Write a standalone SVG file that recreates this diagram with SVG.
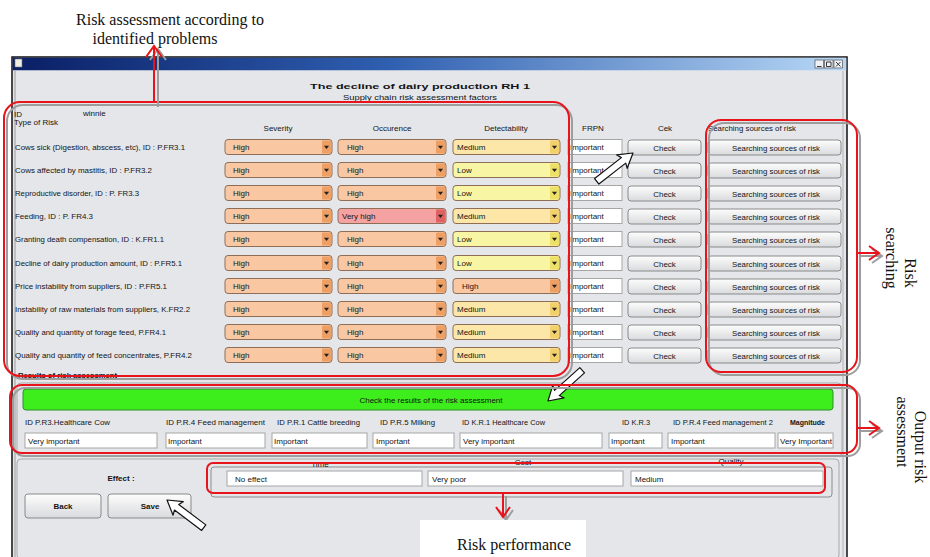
<svg xmlns="http://www.w3.org/2000/svg" width="930" height="557" viewBox="0 0 930 557">
<defs>
<linearGradient id="gTitle" x1="0" y1="0" x2="1" y2="0">
<stop offset="0" stop-color="#0a1f66"/><stop offset="0.45" stop-color="#2f5fb0"/><stop offset="1" stop-color="#b8d8f6"/>
</linearGradient>
<linearGradient id="gBtn" x1="0" y1="0" x2="0" y2="1">
<stop offset="0" stop-color="#fdfdfd"/><stop offset="1" stop-color="#d9dadc"/>
</linearGradient>
<path id="tri" d="M-2.6,-1.3 L2.6,-1.3 L0,1.9 Z" fill="#222"/>
<path id="cur" d="M0,0 L14,-8.5 L12,-3.5 L46,-3.5 L46,3.5 L12,3.5 L14,8.5 Z" fill="#fff" stroke="#111" stroke-width="1.2" stroke-linejoin="round"/>
</defs>
<style>
.ui{font-family:"Liberation Sans",Arial,sans-serif;font-size:8px;fill:#141414}
.b{font-weight:bold}
.serif{font-family:"Liberation Serif","Times New Roman",serif;font-size:16px;fill:#111}
.red{fill:none;stroke:#e8141c;stroke-width:2}
.shd{fill:none;stroke:#9d9d9d;stroke-width:2}
.btn{fill:url(#gBtn);stroke:#8a8a8a;stroke-width:1}
.tb{fill:#fff;stroke:#a6a6a6;stroke-width:1}
.dd{stroke:#8f6e58;stroke-width:1}
.hi{fill:#f9c8a2}.hiA{fill:#eea064}
.vh{fill:#f4a2a2}.vhA{fill:#df6262}
.lo{fill:#f8f5a4}.loA{fill:#ece066}
.me{fill:#fce6a8}.meA{fill:#f2d06c}
</style>

<rect width="930" height="557" fill="#fff"/>

<!-- window -->
<g id="window">
<rect x="12" y="57" width="835" height="510" fill="#e4e6ea" stroke="#111" stroke-width="1.5"/>
<rect x="12.75" y="57.75" width="833.5" height="12.5" fill="url(#gTitle)"/>
<rect x="15" y="59" width="7" height="8" fill="#f1efe4" stroke="#777" stroke-width="0.6"/>
<g stroke="#555" stroke-width="0.7" fill="#eef1f6">
<rect x="815" y="60" width="8.5" height="8"/><rect x="824.5" y="60" width="8.5" height="8"/><rect x="834" y="60" width="8.5" height="8"/>
</g>
<path d="M817,66.5 H821.5 M826.5,62 h4.5 v4.5 h-4.5 z M836,62 l4.5,4.5 M840.5,62 l-4.5,4.5" stroke="#222" stroke-width="0.9" fill="none"/>
<line x1="15" y1="71" x2="15" y2="557" stroke="#9a9a9a" stroke-width="1"/>
<line x1="843" y1="71" x2="843" y2="557" stroke="#b0b0b0" stroke-width="1"/>
<text class="ui b" x="310" y="89" font-size="15.5" textLength="220" lengthAdjust="spacingAndGlyphs">The decline of dairy production  RH 1</text>
<text class="ui" x="343" y="100" font-size="9.5" textLength="154" lengthAdjust="spacingAndGlyphs" text-decoration="underline">Supply chain risk assessment factors</text>
</g>

<!-- header -->
<g id="header">
<text class="ui" x="14" y="117" font-size="7.5">ID</text>
<text class="ui" x="83" y="116" font-size="7.5">winnie</text>
<text class="ui" x="14" y="125" font-size="7.5">Type of Risk</text>
<g text-anchor="middle">
<text class="ui" x="278" y="131">Severity</text>
<text class="ui" x="392" y="131">Occurence</text>
<text class="ui" x="506" y="131">Detectability</text>
<text class="ui" x="593" y="131">FRPN</text>
<text class="ui" x="665" y="131">Cek</text>
</g>
<text class="ui" x="708" y="131" textLength="88" lengthAdjust="spacingAndGlyphs">Searching sources of risk</text>
</g>

<!-- rows -->
<g id="row1">
<text class="ui" x="15" y="150" font-size="8.5" textLength="170" lengthAdjust="spacingAndGlyphs">Cows sick (Digestion, abscess, etc), ID : P.FR3.1</text>
<rect class="dd hi" x="225" y="139.5" width="107" height="15" rx="3"/><rect class="hiA" x="322" y="140.5" width="9" height="13" rx="1"/><use href="#tri" x="326.5" y="147"/><text class="ui" x="233" y="150">High</text>
<rect class="dd hi" x="338" y="139.5" width="108" height="15" rx="3"/><rect class="hiA" x="436" y="140.5" width="9" height="13" rx="1"/><use href="#tri" x="440.5" y="147"/><text class="ui" x="347" y="150">High</text>
<rect class="dd me" x="453" y="139.5" width="107" height="15" rx="3"/><rect class="meA" x="550" y="140.5" width="9" height="13" rx="1"/><use href="#tri" x="554.5" y="147"/><text class="ui" x="457" y="150">Medium</text>
<rect class="tb" x="568" y="139.5" width="54" height="15"/><text class="ui" x="570" y="150">Important</text>
<rect class="btn" x="628" y="140" width="73" height="15" rx="3"/><text class="ui" x="664.5" y="150.5" text-anchor="middle">Check</text>
<rect class="btn" x="708" y="140" width="133" height="15" rx="3"/><text class="ui" x="776" y="150.5" text-anchor="middle" textLength="88" lengthAdjust="spacingAndGlyphs">Searching sources of risk</text>
</g>
<g id="row2" transform="translate(0,23)">
<text class="ui" x="15" y="150" font-size="8.5" textLength="137" lengthAdjust="spacingAndGlyphs">Cows affected by mastitis, ID : P.FR3.2</text>
<rect class="dd hi" x="225" y="139.5" width="107" height="15" rx="3"/><rect class="hiA" x="322" y="140.5" width="9" height="13" rx="1"/><use href="#tri" x="326.5" y="147"/><text class="ui" x="233" y="150">High</text>
<rect class="dd hi" x="338" y="139.5" width="108" height="15" rx="3"/><rect class="hiA" x="436" y="140.5" width="9" height="13" rx="1"/><use href="#tri" x="440.5" y="147"/><text class="ui" x="347" y="150">High</text>
<rect class="dd lo" x="453" y="139.5" width="107" height="15" rx="3"/><rect class="loA" x="550" y="140.5" width="9" height="13" rx="1"/><use href="#tri" x="554.5" y="147"/><text class="ui" x="457" y="150">Low</text>
<rect class="tb" x="568" y="139.5" width="54" height="15"/><text class="ui" x="570" y="150">Important</text>
<rect class="btn" x="628" y="140" width="73" height="15" rx="3"/><text class="ui" x="664.5" y="150.5" text-anchor="middle">Check</text>
<rect class="btn" x="708" y="140" width="133" height="15" rx="3"/><text class="ui" x="776" y="150.5" text-anchor="middle" textLength="88" lengthAdjust="spacingAndGlyphs">Searching sources of risk</text>
</g>
<g id="row3" transform="translate(0,46)">
<text class="ui" x="15" y="150" font-size="8.5" textLength="124" lengthAdjust="spacingAndGlyphs">Reproductive disorder, ID : P. FR3.3</text>
<rect class="dd hi" x="225" y="139.5" width="107" height="15" rx="3"/><rect class="hiA" x="322" y="140.5" width="9" height="13" rx="1"/><use href="#tri" x="326.5" y="147"/><text class="ui" x="233" y="150">High</text>
<rect class="dd hi" x="338" y="139.5" width="108" height="15" rx="3"/><rect class="hiA" x="436" y="140.5" width="9" height="13" rx="1"/><use href="#tri" x="440.5" y="147"/><text class="ui" x="347" y="150">High</text>
<rect class="dd lo" x="453" y="139.5" width="107" height="15" rx="3"/><rect class="loA" x="550" y="140.5" width="9" height="13" rx="1"/><use href="#tri" x="554.5" y="147"/><text class="ui" x="457" y="150">Low</text>
<rect class="tb" x="568" y="139.5" width="54" height="15"/><text class="ui" x="570" y="150">Important</text>
<rect class="btn" x="628" y="140" width="73" height="15" rx="3"/><text class="ui" x="664.5" y="150.5" text-anchor="middle">Check</text>
<rect class="btn" x="708" y="140" width="133" height="15" rx="3"/><text class="ui" x="776" y="150.5" text-anchor="middle" textLength="88" lengthAdjust="spacingAndGlyphs">Searching sources of risk</text>
</g>
<g id="row4" transform="translate(0,69)">
<text class="ui" x="15" y="150" font-size="8.5" textLength="78" lengthAdjust="spacingAndGlyphs">Feeding, ID : P. FR4.3</text>
<rect class="dd hi" x="225" y="139.5" width="107" height="15" rx="3"/><rect class="hiA" x="322" y="140.5" width="9" height="13" rx="1"/><use href="#tri" x="326.5" y="147"/><text class="ui" x="233" y="150">High</text>
<rect class="dd vh" x="338" y="139.5" width="108" height="15" rx="3"/><rect class="vhA" x="436" y="140.5" width="9" height="13" rx="1"/><use href="#tri" x="440.5" y="147"/><text class="ui" x="342" y="150">Very high</text>
<rect class="dd me" x="453" y="139.5" width="107" height="15" rx="3"/><rect class="meA" x="550" y="140.5" width="9" height="13" rx="1"/><use href="#tri" x="554.5" y="147"/><text class="ui" x="457" y="150">Medium</text>
<rect class="tb" x="568" y="139.5" width="54" height="15"/><text class="ui" x="570" y="150">Important</text>
<rect class="btn" x="628" y="140" width="73" height="15" rx="3"/><text class="ui" x="664.5" y="150.5" text-anchor="middle">Check</text>
<rect class="btn" x="708" y="140" width="133" height="15" rx="3"/><text class="ui" x="776" y="150.5" text-anchor="middle" textLength="88" lengthAdjust="spacingAndGlyphs">Searching sources of risk</text>
</g>
<g id="row5" transform="translate(0,92)">
<text class="ui" x="15" y="150" font-size="8.5" textLength="149" lengthAdjust="spacingAndGlyphs">Granting death compensation, ID : K.FR1.1</text>
<rect class="dd hi" x="225" y="139.5" width="107" height="15" rx="3"/><rect class="hiA" x="322" y="140.5" width="9" height="13" rx="1"/><use href="#tri" x="326.5" y="147"/><text class="ui" x="233" y="150">High</text>
<rect class="dd hi" x="338" y="139.5" width="108" height="15" rx="3"/><rect class="hiA" x="436" y="140.5" width="9" height="13" rx="1"/><use href="#tri" x="440.5" y="147"/><text class="ui" x="347" y="150">High</text>
<rect class="dd lo" x="453" y="139.5" width="107" height="15" rx="3"/><rect class="loA" x="550" y="140.5" width="9" height="13" rx="1"/><use href="#tri" x="554.5" y="147"/><text class="ui" x="457" y="150">Low</text>
<rect class="tb" x="568" y="139.5" width="54" height="15"/><text class="ui" x="570" y="150">Important</text>
<rect class="btn" x="628" y="140" width="73" height="15" rx="3"/><text class="ui" x="664.5" y="150.5" text-anchor="middle">Check</text>
<rect class="btn" x="708" y="140" width="133" height="15" rx="3"/><text class="ui" x="776" y="150.5" text-anchor="middle" textLength="88" lengthAdjust="spacingAndGlyphs">Searching sources of risk</text>
</g>
<g id="row6" transform="translate(0,116)">
<text class="ui" x="15" y="150" font-size="8.5" textLength="167" lengthAdjust="spacingAndGlyphs">Decline of dairy production amount, ID : P.FR5.1</text>
<rect class="dd hi" x="225" y="139.5" width="107" height="15" rx="3"/><rect class="hiA" x="322" y="140.5" width="9" height="13" rx="1"/><use href="#tri" x="326.5" y="147"/><text class="ui" x="233" y="150">High</text>
<rect class="dd hi" x="338" y="139.5" width="108" height="15" rx="3"/><rect class="hiA" x="436" y="140.5" width="9" height="13" rx="1"/><use href="#tri" x="440.5" y="147"/><text class="ui" x="347" y="150">High</text>
<rect class="dd lo" x="453" y="139.5" width="107" height="15" rx="3"/><rect class="loA" x="550" y="140.5" width="9" height="13" rx="1"/><use href="#tri" x="554.5" y="147"/><text class="ui" x="457" y="150">Low</text>
<rect class="tb" x="568" y="139.5" width="54" height="15"/><text class="ui" x="570" y="150">Important</text>
<rect class="btn" x="628" y="140" width="73" height="15" rx="3"/><text class="ui" x="664.5" y="150.5" text-anchor="middle">Check</text>
<rect class="btn" x="708" y="140" width="133" height="15" rx="3"/><text class="ui" x="776" y="150.5" text-anchor="middle" textLength="88" lengthAdjust="spacingAndGlyphs">Searching sources of risk</text>
</g>
<g id="row7" transform="translate(0,139)">
<text class="ui" x="15" y="150" font-size="8.5" textLength="152" lengthAdjust="spacingAndGlyphs">Price instability from suppliers, ID : P.FR5.1</text>
<rect class="dd hi" x="225" y="139.5" width="107" height="15" rx="3"/><rect class="hiA" x="322" y="140.5" width="9" height="13" rx="1"/><use href="#tri" x="326.5" y="147"/><text class="ui" x="233" y="150">High</text>
<rect class="dd hi" x="338" y="139.5" width="108" height="15" rx="3"/><rect class="hiA" x="436" y="140.5" width="9" height="13" rx="1"/><use href="#tri" x="440.5" y="147"/><text class="ui" x="347" y="150">High</text>
<rect class="dd hi" x="453" y="139.5" width="107" height="15" rx="3"/><rect class="hiA" x="550" y="140.5" width="9" height="13" rx="1"/><use href="#tri" x="554.5" y="147"/><text class="ui" x="462" y="150">High</text>
<rect class="tb" x="568" y="139.5" width="54" height="15"/><text class="ui" x="570" y="150">Important</text>
<rect class="btn" x="628" y="140" width="73" height="15" rx="3"/><text class="ui" x="664.5" y="150.5" text-anchor="middle">Check</text>
<rect class="btn" x="708" y="140" width="133" height="15" rx="3"/><text class="ui" x="776" y="150.5" text-anchor="middle" textLength="88" lengthAdjust="spacingAndGlyphs">Searching sources of risk</text>
</g>
<g id="row8" transform="translate(0,162)">
<text class="ui" x="15" y="150" font-size="8.5" textLength="175" lengthAdjust="spacingAndGlyphs">Instability of raw materials from suppliers, K.FR2.2</text>
<rect class="dd hi" x="225" y="139.5" width="107" height="15" rx="3"/><rect class="hiA" x="322" y="140.5" width="9" height="13" rx="1"/><use href="#tri" x="326.5" y="147"/><text class="ui" x="233" y="150">High</text>
<rect class="dd hi" x="338" y="139.5" width="108" height="15" rx="3"/><rect class="hiA" x="436" y="140.5" width="9" height="13" rx="1"/><use href="#tri" x="440.5" y="147"/><text class="ui" x="347" y="150">High</text>
<rect class="dd me" x="453" y="139.5" width="107" height="15" rx="3"/><rect class="meA" x="550" y="140.5" width="9" height="13" rx="1"/><use href="#tri" x="554.5" y="147"/><text class="ui" x="457" y="150">Medium</text>
<rect class="tb" x="568" y="139.5" width="54" height="15"/><text class="ui" x="570" y="150">Important</text>
<rect class="btn" x="628" y="140" width="73" height="15" rx="3"/><text class="ui" x="664.5" y="150.5" text-anchor="middle">Check</text>
<rect class="btn" x="708" y="140" width="133" height="15" rx="3"/><text class="ui" x="776" y="150.5" text-anchor="middle" textLength="88" lengthAdjust="spacingAndGlyphs">Searching sources of risk</text>
</g>
<g id="row9" transform="translate(0,185)">
<text class="ui" x="15" y="150" font-size="8.5" textLength="151" lengthAdjust="spacingAndGlyphs">Quality and quantity of forage feed, P.FR4.1</text>
<rect class="dd hi" x="225" y="139.5" width="107" height="15" rx="3"/><rect class="hiA" x="322" y="140.5" width="9" height="13" rx="1"/><use href="#tri" x="326.5" y="147"/><text class="ui" x="233" y="150">High</text>
<rect class="dd hi" x="338" y="139.5" width="108" height="15" rx="3"/><rect class="hiA" x="436" y="140.5" width="9" height="13" rx="1"/><use href="#tri" x="440.5" y="147"/><text class="ui" x="347" y="150">High</text>
<rect class="dd me" x="453" y="139.5" width="107" height="15" rx="3"/><rect class="meA" x="550" y="140.5" width="9" height="13" rx="1"/><use href="#tri" x="554.5" y="147"/><text class="ui" x="457" y="150">Medium</text>
<rect class="tb" x="568" y="139.5" width="54" height="15"/><text class="ui" x="570" y="150">Important</text>
<rect class="btn" x="628" y="140" width="73" height="15" rx="3"/><text class="ui" x="664.5" y="150.5" text-anchor="middle">Check</text>
<rect class="btn" x="708" y="140" width="133" height="15" rx="3"/><text class="ui" x="776" y="150.5" text-anchor="middle" textLength="88" lengthAdjust="spacingAndGlyphs">Searching sources of risk</text>
</g>
<g id="row10" transform="translate(0,208)">
<text class="ui" x="15" y="150" font-size="8.5" textLength="177" lengthAdjust="spacingAndGlyphs">Quality and quantity of feed concentrates, P.FR4.2</text>
<rect class="dd hi" x="225" y="139.5" width="107" height="15" rx="3"/><rect class="hiA" x="322" y="140.5" width="9" height="13" rx="1"/><use href="#tri" x="326.5" y="147"/><text class="ui" x="233" y="150">High</text>
<rect class="dd hi" x="338" y="139.5" width="108" height="15" rx="3"/><rect class="hiA" x="436" y="140.5" width="9" height="13" rx="1"/><use href="#tri" x="440.5" y="147"/><text class="ui" x="347" y="150">High</text>
<rect class="dd me" x="453" y="139.5" width="107" height="15" rx="3"/><rect class="meA" x="550" y="140.5" width="9" height="13" rx="1"/><use href="#tri" x="554.5" y="147"/><text class="ui" x="457" y="150">Medium</text>
<rect class="tb" x="568" y="139.5" width="54" height="15"/><text class="ui" x="570" y="150">Important</text>
<rect class="btn" x="628" y="140" width="73" height="15" rx="3"/><text class="ui" x="664.5" y="150.5" text-anchor="middle">Check</text>
<rect class="btn" x="708" y="140" width="133" height="15" rx="3"/><text class="ui" x="776" y="150.5" text-anchor="middle" textLength="88" lengthAdjust="spacingAndGlyphs">Searching sources of risk</text>
</g>

<text id="results-label" class="ui b" x="18" y="378" textLength="99" lengthAdjust="spacingAndGlyphs">Results of risk assessment</text>

<!-- output section -->
<g id="output">
<rect x="17" y="383" width="825" height="73" rx="4" fill="#e4e6ea" stroke="#a9a9a9"/>
<rect x="23" y="389" width="810" height="21" rx="3" fill="#3ded1c" stroke="#2f8f2a"/>
<text class="ui" x="431" y="402.5" text-anchor="middle" fill="#2a3a2a" textLength="143" lengthAdjust="spacingAndGlyphs">Check the results of the risk assessment</text>
<text class="ui" x="25" y="425" textLength="85" lengthAdjust="spacingAndGlyphs">ID P.R3.Healthcare Cow</text>
<text class="ui" x="166" y="425" textLength="99" lengthAdjust="spacingAndGlyphs">ID P.R.4 Feed management</text>
<text class="ui" x="277" y="425" textLength="83" lengthAdjust="spacingAndGlyphs">ID P.R.1 Cattle breeding</text>
<text class="ui" x="380" y="425" textLength="55" lengthAdjust="spacingAndGlyphs">ID P.R.5 Milking</text>
<text class="ui" x="462" y="425" textLength="83" lengthAdjust="spacingAndGlyphs">ID K.R.1 Healthcare Cow</text>
<text class="ui" x="622" y="425" textLength="28" lengthAdjust="spacingAndGlyphs">ID K.R.3</text>
<text class="ui" x="673" y="425" textLength="100" lengthAdjust="spacingAndGlyphs">ID P.R.4 Feed management 2</text>
<text class="ui b" x="790" y="425" textLength="35" lengthAdjust="spacingAndGlyphs">Magnitude</text>
<rect class="tb" x="25" y="433" width="132" height="15"/><text class="ui" x="28" y="444">Very important</text>
<rect class="tb" x="166" y="433" width="99" height="15"/><text class="ui" x="168" y="444">Important</text>
<rect class="tb" x="272" y="433" width="95" height="15"/><text class="ui" x="274" y="444">Important</text>
<rect class="tb" x="373" y="433" width="81" height="15"/><text class="ui" x="376" y="444">Important</text>
<rect class="tb" x="460" y="433" width="142" height="15"/><text class="ui" x="463" y="444">Very important</text>
<rect class="tb" x="609" y="433" width="53" height="15"/><text class="ui" x="611" y="444">Important</text>
<rect class="tb" x="668" y="433" width="107" height="15"/><text class="ui" x="671" y="444">Important</text>
<rect class="tb" x="778" y="433" width="55" height="15"/><text class="ui" x="780" y="444" textLength="52" lengthAdjust="spacingAndGlyphs">Very Important</text>
</g>

<!-- effect section -->
<g id="effect">
<rect x="17" y="459" width="822" height="100" rx="4" fill="#e4e6ea" stroke="#a9a9a9"/>
<text class="ui b" x="121" y="481" text-anchor="middle">Effect :</text>
<rect x="211" y="467" width="621" height="30" rx="3" fill="none" stroke="#8c8c8c"/>
<text class="ui" x="320" y="467" text-anchor="middle" font-size="7">Time</text>
<text class="ui" x="523" y="465" text-anchor="middle" font-size="7">Cost</text>
<text class="ui" x="731" y="464" text-anchor="middle" font-size="7">Quality</text>
<rect class="tb" x="227" y="471" width="195" height="15"/><text class="ui" x="235" y="482">No effect</text>
<rect class="tb" x="428" y="471" width="195" height="15"/><text class="ui" x="432" y="482">Very poor</text>
<rect class="tb" x="631" y="471" width="192" height="15"/><text class="ui" x="635" y="482">Medium</text>
<rect class="btn" x="25" y="494" width="76" height="24" rx="3"/><text class="ui b" x="63" y="509" text-anchor="middle">Back</text>
<rect class="btn" x="108" y="494" width="83" height="24" rx="3"/><text class="ui b" x="150" y="509" text-anchor="middle">Save</text>
</g>

<!-- cursors -->
<use href="#cur" transform="translate(167,500) rotate(37)"/>
<use href="#cur" transform="translate(633,153) rotate(142)"/>
<use href="#cur" transform="translate(548,401) rotate(-42)"/>

<!-- annotation boxes -->
<g id="box-assess">
<rect class="shd" x="7" y="105" width="565" height="274" rx="16"/>
<rect class="red" x="4" y="102" width="565" height="274" rx="16"/>
</g>
<g id="box-search">
<rect class="shd" x="709" y="123" width="151" height="252" rx="15"/>
<rect class="red" x="706" y="120" width="151" height="252" rx="15"/>
</g>
<g id="box-output">
<rect class="shd" x="13" y="388" width="847" height="68" rx="12"/>
<rect class="red" x="10" y="385" width="847" height="68" rx="12"/>
</g>
<g id="box-perf">
<rect class="red" x="207" y="463" width="618" height="30" rx="6"/>
</g>

<!-- connectors -->
<g id="connectors" fill="none" stroke-width="2">
<g stroke="#9d9d9d">
<path d="M158,107 V49 M150,60 L158,49 L166,60"/>
<path d="M860,256 H881 M872,249 L882,256 L872,263"/>
<path d="M860,431 H881 M872,424 L882,431 L872,438"/>
<path d="M506,496 V519 M499,510 L506,520 L513,510"/>
</g>
<g stroke="#e8141c">
<path d="M154,102 V46 M146,57 L154,46 L162,57"/>
<path d="M857,253 H878 M869,246 L879,253 L869,260"/>
<path d="M857,428 H878 M869,421 L879,428 L869,435"/>
<path d="M503,493 V516 M496,507 L503,517 L510,507"/>
</g>
</g>

<!-- annotation labels -->
<g id="labels">
<text class="serif" x="170" y="25" text-anchor="middle">Risk assessment according to</text>
<text class="serif" x="155" y="44" text-anchor="middle">identified problems</text>
<text class="serif" transform="translate(905,273) rotate(90)" text-anchor="middle">Risk</text>
<text class="serif" transform="translate(886,258) rotate(90)" text-anchor="middle">searching</text>
<text class="serif" transform="translate(915,447) rotate(90)" text-anchor="middle">Output risk</text>
<text class="serif" transform="translate(897,432) rotate(90)" text-anchor="middle">assessment</text>
<rect x="420" y="520" width="166" height="40" fill="#fff"/>
<text class="serif" x="457" y="550">Risk performance</text>
</g>
</svg>
